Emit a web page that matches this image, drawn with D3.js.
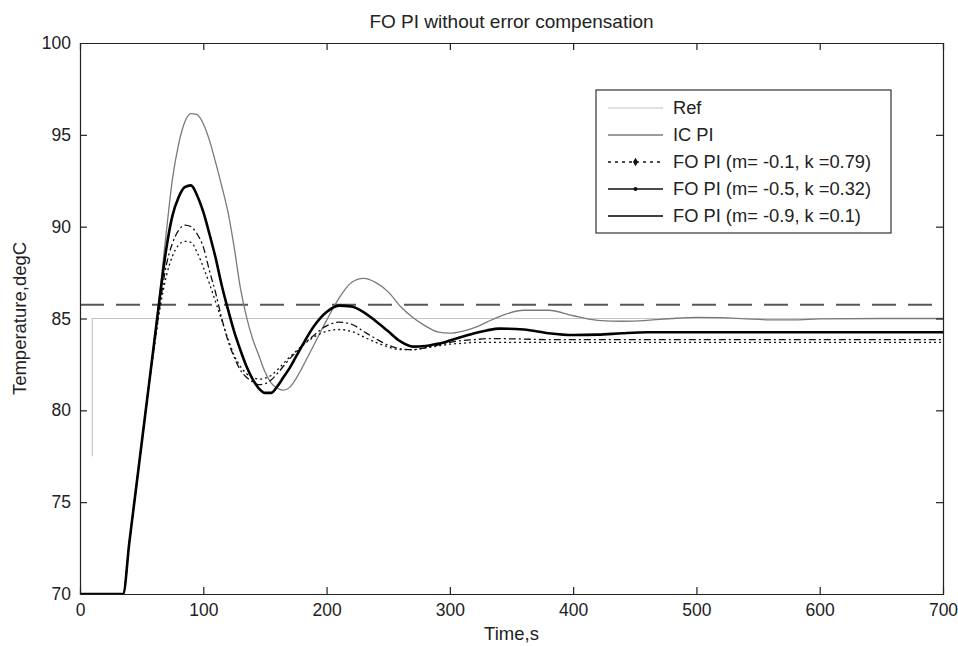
<!DOCTYPE html>
<html>
<head>
<meta charset="utf-8">
<script src="https://cdn.jsdelivr.net/npm/d3@7"></script>
<style>
  html, body { margin: 0; padding: 0; background: #fff; }
  svg { display: block; }
  text { font-family: "Liberation Sans", Arial, Helvetica, sans-serif; fill: #222; }
</style>
</head>
<body>
<svg id="chart" width="958" height="646"></svg>
<script>
// ---------- data ----------
const title = "FO PI without error compensation";
const xLabel = "Time,s";
const yLabel = "Temperature,degC";
const xTicks = [0, 100, 200, 300, 400, 500, 600, 700];
const yTicks = [70, 75, 80, 85, 90, 95, 100];

const time = [0, 35, 40, 45, 50, 55, 60, 65, 70, 75, 80, 85, 90, 95, 100, 105, 110, 115, 120, 125,
  130, 135, 140, 145, 150, 155, 160, 165, 170, 175, 180, 190, 200, 210, 220, 230, 240, 250, 260, 270,
  280, 290, 300, 310, 320, 330, 340, 360, 380, 400, 420, 440, 460, 480, 500, 520, 540, 560, 580, 600, 650, 700];

const icPI = [70, 70, 72.8, 75.5, 78.2, 80.9, 83.7, 86.6, 89.7, 92.6, 94.5, 95.7, 96.15, 96.1, 95.6, 94.7, 93.5, 92.2, 90.8, 88.9,
  86.7, 85.1, 83.9, 83.0, 82.1, 81.5, 81.2, 81.1, 81.25, 81.7, 82.3, 83.6, 84.9, 86.1, 86.95, 87.18, 86.95, 86.45, 85.65, 85.05,
  84.6, 84.27, 84.2, 84.3, 84.5, 84.8, 85.1, 85.45, 85.45, 85.15, 84.9, 84.85, 84.9, 85.0, 85.06, 85.05, 84.98, 84.93, 84.93, 84.98, 85.0, 85.0];

const foPI_m01 = [70, 70, 72.8, 75.5, 78.2, 80.9, 83.3, 85.6, 87.3, 88.4, 89.0, 89.2, 89.15, 88.6, 87.8, 86.9, 85.9, 84.9, 83.9, 83.0,
  82.4, 82.0, 81.8, 81.7, 81.75, 81.9, 82.2, 82.55, 82.9, 83.2, 83.5, 84.0, 84.3, 84.4, 84.3, 84.0, 83.7, 83.45, 83.3, 83.3,
  83.4, 83.5, 83.6, 83.65, 83.7, 83.7, 83.7, 83.7, 83.7, 83.7, 83.7, 83.7, 83.7, 83.7, 83.7, 83.7, 83.7, 83.7, 83.7, 83.7, 83.7, 83.7];

const foPI_m05 = [70, 70, 72.8, 75.5, 78.2, 80.9, 83.4, 85.8, 87.9, 89.1, 89.8, 90.08, 90.0, 89.6, 88.9, 87.6, 86.4, 85.0, 83.8, 82.9,
  82.2, 81.8, 81.55, 81.4, 81.45, 81.65, 82.0, 82.4, 82.8, 83.15, 83.5, 84.1, 84.6, 84.8, 84.7, 84.3, 83.9, 83.55, 83.35, 83.3,
  83.4, 83.55, 83.7, 83.8, 83.85, 83.9, 83.9, 83.88, 83.85, 83.85, 83.85, 83.85, 83.85, 83.85, 83.85, 83.85, 83.85, 83.85, 83.85, 83.85, 83.85, 83.85];

const foPI_m09 = [70, 70, 72.8, 75.5, 78.2, 80.9, 83.6, 86.3, 88.8, 90.6, 91.6, 92.15, 92.25, 91.7, 90.8, 89.6, 88.3, 86.8, 85.5, 84.3,
  83.3, 82.4, 81.7, 81.2, 80.95, 80.95, 81.3, 81.8, 82.3, 82.9, 83.5, 84.6, 85.35, 85.7, 85.65, 85.35, 84.85, 84.3, 83.75, 83.47,
  83.5, 83.62, 83.8, 84.0, 84.2, 84.35, 84.45, 84.4, 84.2, 84.1, 84.12, 84.2, 84.25, 84.25, 84.25, 84.25, 84.25, 84.25, 84.25, 84.25, 84.25, 84.25];

const refTime = [10, 10, 700];
const refValue = [77.5, 85, 85];

const limitTime = [0, 700];
const limitValue = [85.75, 85.75];

const legendLabels = ["Ref", "IC PI", "FO PI (m= -0.1, k =0.79)", "FO PI (m= -0.5, k =0.32)", "FO PI (m= -0.9, k =0.1)"];

// ---------- layout ----------
const svg = d3.select("#chart");
const mLeft = 80, mRight = 943, mTop = 43, mBottom = 594;
const x = d3.scaleLinear().domain([0, 700]).range([mLeft, mRight]);
const y = d3.scaleLinear().domain([70, 100]).range([mBottom, mTop]);

const g = svg.append("g");

svg.append("defs").append("clipPath").attr("id", "clip")
  .append("rect").attr("x", mLeft).attr("y", mTop).attr("width", mRight - mLeft).attr("height", mBottom - mTop);

const plot = g.append("g").attr("clip-path", "url(#clip)");

function pts(ts, vs) { return ts.map((t, i) => [t, vs[i]]); }
const line = d3.line().x(d => x(d[0])).y(d => y(d[1])).curve(d3.curveMonotoneX);
const lineLin = d3.line().x(d => x(d[0])).y(d => y(d[1]));

plot.append("path").attr("d", lineLin(pts(refTime, refValue)))
  .attr("fill", "none").attr("stroke", "#c4c4c4").attr("stroke-width", 1.2);

plot.append("path").attr("d", lineLin(pts(limitTime, limitValue)))
  .attr("fill", "none").attr("stroke", "#555").attr("stroke-width", 2)
  .attr("stroke-dasharray", "24,12");

plot.append("path").attr("d", line(pts(time, icPI)))
  .attr("fill", "none").attr("stroke", "#7a7a7a").attr("stroke-width", 1.3);

plot.append("path").attr("d", line(pts(time, foPI_m01)))
  .attr("fill", "none").attr("stroke", "#111").attr("stroke-width", 1.3)
  .attr("stroke-dasharray", "2,3");

plot.append("path").attr("d", line(pts(time, foPI_m05)))
  .attr("fill", "none").attr("stroke", "#111").attr("stroke-width", 1.3)
  .attr("stroke-dasharray", "7,3,2,3");

plot.append("path").attr("d", line(pts(time, foPI_m09)))
  .attr("fill", "none").attr("stroke", "#000").attr("stroke-width", 2.6);

// ---------- axes ----------
const axisColor = "#222";
const tickFont = 17.5;
const labelFont = 18.5;
const titleFont = 19;
const legendFont = 18.3;

const xb = g.append("g").attr("transform", `translate(0,${mBottom})`)
  .call(d3.axisBottom(x).tickValues(xTicks).tickSize(-7).tickPadding(10).tickFormat(d3.format("d")));
const xt = g.append("g").attr("transform", `translate(0,${mTop})`)
  .call(d3.axisTop(x).tickValues(xTicks).tickSize(-7).tickFormat(""));
const yl = g.append("g").attr("transform", `translate(${mLeft},0)`)
  .call(d3.axisLeft(y).tickValues(yTicks).tickSize(-7).tickPadding(9).tickFormat(d3.format("d")));
const yr = g.append("g").attr("transform", `translate(${mRight},0)`)
  .call(d3.axisRight(y).tickValues(yTicks).tickSize(-7).tickFormat(""));

[xb, xt, yl, yr].forEach(a => {
  a.selectAll("path.domain").attr("stroke", axisColor).attr("stroke-width", 1.2);
  a.selectAll(".tick line").attr("stroke", axisColor).attr("stroke-width", 1.2);
  a.selectAll(".tick text").attr("font-size", tickFont).attr("fill", "#222")
    .attr("font-family", "Liberation Sans, Arial, sans-serif");
});
[xb, xt].forEach(a => a.selectAll(".tick").filter(d => d === 0 || d === 700).select("line").remove());
[yl, yr].forEach(a => a.selectAll(".tick").filter(d => d === 70 || d === 100).select("line").remove());

g.append("text").attr("x", (mLeft + mRight) / 2).attr("y", 28).attr("text-anchor", "middle")
  .attr("font-size", titleFont).text(title);
g.append("text").attr("x", (mLeft + mRight) / 2).attr("y", 640).attr("text-anchor", "middle")
  .attr("font-size", labelFont).text(xLabel);
g.append("text").attr("transform", `translate(26,${(mTop + mBottom) / 2}) rotate(-90)`)
  .attr("text-anchor", "middle").attr("font-size", labelFont).text(yLabel);

// ---------- legend ----------
const lg = g.append("g");
lg.append("rect").attr("x", 596).attr("y", 90).attr("width", 295).attr("height", 143)
  .attr("fill", "#fff").attr("stroke", "#333").attr("stroke-width", 1.2);

const legendStyles = [
  { stroke: "#c4c4c4", w: 1.2, dash: null, marker: null },
  { stroke: "#7a7a7a", w: 1.3, dash: null, marker: null },
  { stroke: "#111", w: 1.3, dash: "3,4", marker: "diamond" },
  { stroke: "#111", w: 1.3, dash: null, marker: "dot" },
  { stroke: "#000", w: 1.6, dash: null, marker: null }
];
legendLabels.forEach((lab, i) => {
  const yy = 108 + i * 27;
  const s = legendStyles[i];
  const ln = lg.append("line").attr("x1", 608).attr("x2", 663).attr("y1", yy).attr("y2", yy)
    .attr("stroke", s.stroke).attr("stroke-width", s.w);
  if (s.dash) ln.attr("stroke-dasharray", s.dash);
  if (s.marker === "diamond") {
    lg.append("path").attr("d", d3.symbol(d3.symbolDiamond, 22)()).attr("transform", `translate(635.5,${yy})`).attr("fill", "#111");
  } else if (s.marker === "dot") {
    lg.append("circle").attr("cx", 635.5).attr("cy", yy).attr("r", 2).attr("fill", "#111");
  }
  lg.append("text").attr("x", 673).attr("y", yy + 6).attr("font-size", legendFont).text(lab);
});
</script>
</body>
</html>
